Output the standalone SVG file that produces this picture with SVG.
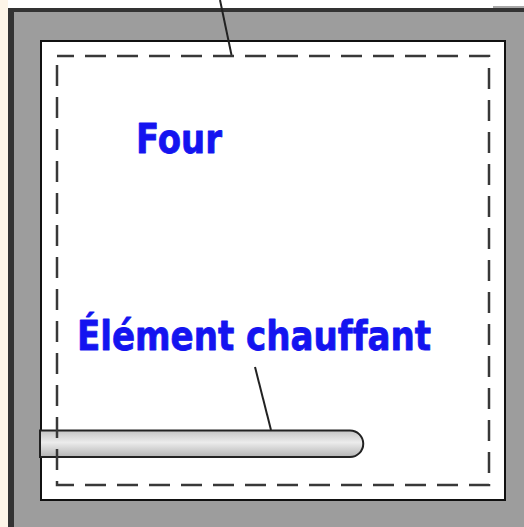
<svg xmlns="http://www.w3.org/2000/svg" width="524" height="527" viewBox="0 0 524 527">
<style>
.lbl{font-family:"DejaVu Sans","Liberation Sans",sans-serif;font-weight:bold;font-size:34px;fill:#1414f0;stroke:#1414f0;stroke-width:0.7;stroke-linejoin:round;font-variant-ligatures:none;font-feature-settings:"liga" 0;}
.lead{stroke:#222;stroke-width:2;fill:none;}
.dash{fill:none;stroke:#383838;stroke-width:2.5;stroke-dasharray:21 11;}
</style>
<defs>
<linearGradient id="tube" x1="0" y1="0" x2="0" y2="1">
<stop offset="0" stop-color="#c4c4c4"/>
<stop offset="0.45" stop-color="#ececec"/>
<stop offset="1" stop-color="#b4b4b4"/>
</linearGradient>
</defs>
<g id="background">
<rect x="0" y="0" width="524" height="527" fill="#ffffff"/>
<rect x="0" y="0" width="8" height="527" fill="#fdf5e8"/>
<rect x="493" y="6" width="31" height="3" fill="#a8a8a8"/>
<rect x="8" y="8" width="516" height="519" fill="#333333"/>
<rect x="14" y="12" width="510" height="515" fill="#9d9d9d"/>
</g>
<g id="oven">
<rect x="41" y="41" width="464" height="459" fill="#ffffff" stroke="#111" stroke-width="2"/>
</g>
<g id="element">
<path d="M40,430.5 H350 A13.25,13.25 0 0 1 350,457 H40 Z" fill="url(#tube)" stroke="#222" stroke-width="2"/>
</g>
<g id="cavity">
<rect x="57" y="56" width="432" height="429" class="dash" stroke-dashoffset="4"/>
</g>
<g id="connectors">
<line class="lead" x1="220" y1="0" x2="231.5" y2="55"/>
<line class="lead" x1="255" y1="367" x2="271" y2="430"/>
</g>
<g id="label-four">
<text class="lbl" transform="translate(136,153) scale(1,1.22)" x="0" y="0" textLength="86" lengthAdjust="spacingAndGlyphs">Four</text>
</g>
<g id="label-element">
<text class="lbl" transform="translate(77,350) scale(1,1.22)" x="0" y="0" textLength="354" lengthAdjust="spacingAndGlyphs">Élément chauffant</text>
</g>
</svg>
